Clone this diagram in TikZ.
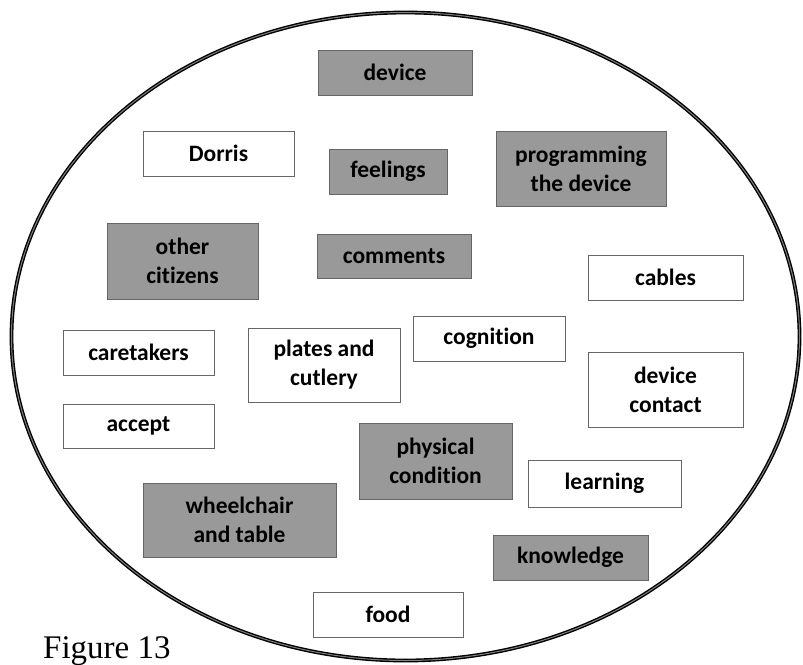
\documentclass[tikz,border=0pt]{standalone}
\usepackage{fontspec}
\newfontfamily\tagfont{Carlito}[Ligatures=NoCommon]
\newfontfamily\captionfont{Liberation Serif}
\begin{document}
\begin{tikzpicture}[x=1pt,y=-1pt,
  tag/.style={draw=black!60, line width=1pt, inner sep=0pt, align=center,
    font=\tagfont\bfseries\fontsize{23.5}{29}\selectfont, text=black},
  graytag/.style={tag, fill=black!40},
  whitetag/.style={tag, fill=white},
  rim/.style={draw=black, line width=1.4pt, double=black!50, double distance=1pt}]
\useasboundingbox (0,0) rectangle (803,664);
% enclosing ellipse
\draw[rim] (405.5,336.5) ellipse [x radius=394, y radius=324];
% topic boxes
\node[graytag, minimum width=154, minimum height=45] (device) at (395,72.5) {device};
\node[graytag, minimum width=118, minimum height=45] (feelings) at (388,171.5) {feelings};
\node[graytag, minimum width=170, minimum height=75] (prog) at (581,168.5) {programming\\the device};
\node[whitetag, minimum width=151, minimum height=45] (dorris) at (218.5,153.5) {Dorris};
\node[graytag, minimum width=151, minimum height=76] (citizens) at (182.5,261) {other\\citizens};
\node[graytag, minimum width=154, minimum height=44] (comments) at (394,256) {comments};
\node[whitetag, minimum width=155, minimum height=45] (cables) at (665.5,277.5) {cables};
\node[whitetag, minimum width=151, minimum height=45] (caretakers) at (138.5,352.5) {caretakers};
\node[whitetag, minimum width=152, minimum height=74] (plates) at (324,365) {plates and\\cutlery};
\node[whitetag, minimum width=152, minimum height=45] (cognition) at (489,338.5) {cognition};
\node[whitetag, minimum width=155, minimum height=75] (contact) at (665.5,389.5) {device\\contact};
\node[whitetag, minimum width=151, minimum height=44] (accept) at (138.5,426) {accept};
\node[graytag, minimum width=153, minimum height=76] (physical) at (435.5,461) {physical\\condition};
\node[whitetag, minimum width=153, minimum height=47] (learning) at (604.5,483.5) {learning};
\node[graytag, minimum width=193, minimum height=74] (wheelchair) at (239.5,520) {wheelchair\\and table};
\node[graytag, minimum width=155, minimum height=45] (knowledge) at (570.5,557.5) {knowledge};
\node[whitetag, minimum width=150, minimum height=45] (food) at (388,614.5) {food};
% caption
\node[anchor=base west, inner sep=0pt, font=\captionfont\fontsize{33}{38}\selectfont] (caption) at (43,658) {Figure 13};
\end{tikzpicture}
\end{document}
